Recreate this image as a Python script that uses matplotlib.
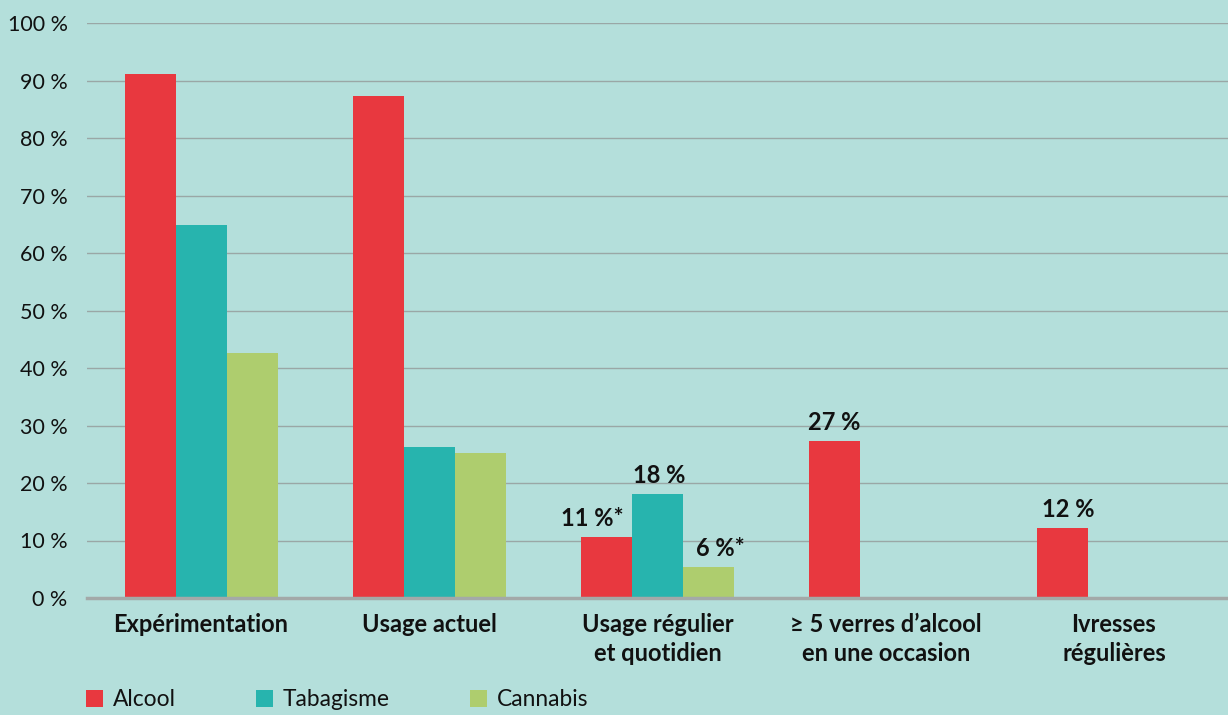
import matplotlib
matplotlib.use("Agg")
import numpy as np
import matplotlib.pyplot as plt

# data
categories = ["Expérimentation", "Usage actuel", "Usage régulier\net quotidien",
              "≥ 5 verres d’alcool\nen une occasion", "Ivresses\nrégulières"]
alcool    = [91.1, 87.3, 10.6, 27.3, 12.2]
tabagisme = [64.9, 26.3, 18.1, 0, 0]
cannabis  = [42.6, 25.2, 5.4, 0, 0]
series_names = ["Alcool", "Tabagisme", "Cannabis"]

# value labels: (category index, series index, text)
value_labels = [(2, 0, "11 %*"), (2, 1, "18 %"), (2, 2, "6 %*"),
                (3, 0, "27 %"), (4, 0, "12 %")]
label_dx = {(2, 0): -14, (2, 1): 2, (2, 2): 12, (3, 0): 0, (4, 0): 5}

yticks = list(range(0, 101, 10))

BG = "#b4dfdb"
COLORS = ["#e8383f", "#27b4ae", "#aecd6e"]
plt.rcParams["font.family"] = ["Lato", "DejaVu Sans"]

fig = plt.figure(figsize=(12.28, 7.15), dpi=100, facecolor=BG)
ax = fig.add_axes([87 / 1228, 117 / 715, 1 - 87 / 1228, 575 / 715])
ax.set_facecolor(BG)

x = np.arange(len(categories))
w = 0.2237
bars = []
for i, vals in enumerate([alcool, tabagisme, cannabis]):
    b = ax.bar(x + (i - 1) * w, vals, width=w, color=COLORS[i],
               label=series_names[i], zorder=3)
    bars.append(b)

for ci, si, txt in value_labels:
    rect = bars[si][ci]
    ax.annotate(txt, (rect.get_x() + rect.get_width() / 2, rect.get_height()),
                xytext=(label_dx[(ci, si)] * 0.72, 5), textcoords="offset points",
                ha="center", va="bottom", fontsize=17, fontweight="bold",
                color="#111111")

ax.set_xlim(-0.5, 4.5)
ax.set_ylim(0, 100)
ax.set_yticks(yticks)
ax.set_yticklabels([f"{t} %" for t in yticks], fontsize=15.5, color="#111111")
ax.set_xticks(x)
ax.set_xticklabels(categories, fontsize=17, fontweight="bold",
                   color="#111111", linespacing=1.28, va="top")
ax.tick_params(axis="both", length=0)
ax.tick_params(axis="y", pad=14)
ax.tick_params(axis="x", pad=11)

ax.grid(axis="y", color="#9aa7a6", linewidth=1, zorder=0)
ax.set_axisbelow(True)
for s in ["top", "right", "left"]:
    ax.spines[s].set_visible(False)
ax.spines["bottom"].set_color("#a3a9a8")
ax.spines["bottom"].set_linewidth(2.5)
ax.spines["bottom"].set_zorder(4)

leg = fig.legend(handles=bars, labels=series_names, loc="lower left",
                 bbox_to_anchor=(65 / 1228, -0.022), ncol=3, frameon=False,
                 fontsize=16.4, handlelength=0.75, handleheight=0.75,
                 handletextpad=0.45, columnspacing=3.5)
for t in leg.get_texts():
    t.set_color("#111111")

fig.savefig("out.png", dpi=100, facecolor=BG)
